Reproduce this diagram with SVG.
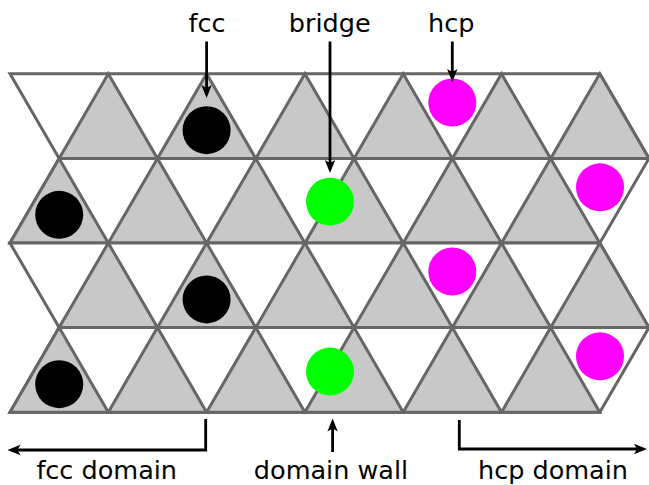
<svg xmlns="http://www.w3.org/2000/svg" width="649" height="485" viewBox="0 0 649 485">
<style>
.row{fill:#ffffff;stroke:#666666;stroke-width:3;stroke-linejoin:miter}
.tri{fill:#c8c8c8;stroke:#666666;stroke-width:3;stroke-linejoin:miter}
.lbl{font-family:"DejaVu Sans","Liberation Sans",sans-serif;font-size:25.5px;fill:#000;text-anchor:middle}
.arr{fill:none;stroke:#000;stroke-width:2.8}
</style>
<defs>
<marker id="ah" viewBox="0 -6 14 12" markerWidth="14" markerHeight="12" markerUnits="userSpaceOnUse" refX="4" refY="0" orient="auto">
<path d="M0,-5.2 L13,0 L0,5.2 L3,0 Z" fill="#000"/>
</marker>
<g id="rowA">
<polygon class="row" points="10,0 599.8,0 648.95,84.6 59.15,84.6"/>
<polygon class="tri" points="108.3,0 157.45,84.6 59.15,84.6"/>
<polygon class="tri" points="206.6,0 255.75,84.6 157.45,84.6"/>
<polygon class="tri" points="304.9,0 354.05,84.6 255.75,84.6"/>
<polygon class="tri" points="403.2,0 452.35,84.6 354.05,84.6"/>
<polygon class="tri" points="501.5,0 550.65,84.6 452.35,84.6"/>
<polygon class="tri" points="599.8,0 648.95,84.6 550.65,84.6"/>
</g>
<g id="rowB">
<polygon class="row" points="59.15,0 648.95,0 599.8,84.6 10,84.6"/>
<polygon class="tri" points="59.15,0 108.3,84.6 10,84.6"/>
<polygon class="tri" points="157.45,0 206.6,84.6 108.3,84.6"/>
<polygon class="tri" points="255.75,0 304.9,84.6 206.6,84.6"/>
<polygon class="tri" points="354.05,0 403.2,84.6 304.9,84.6"/>
<polygon class="tri" points="452.35,0 501.5,84.6 403.2,84.6"/>
<polygon class="tri" points="550.65,0 599.8,84.6 501.5,84.6"/>
</g>
</defs>
<g id="lattice">
<use href="#rowA" x="0" y="73.8"/>
<use href="#rowB" x="0" y="158.4"/>
<use href="#rowA" x="0" y="243"/>
<use href="#rowB" x="0" y="327.6"/>
</g>
<g id="atoms">
<g id="fcc-atoms" fill="#000">
<circle id="fcc1" cx="206.6" cy="130.2" r="24"/>
<circle id="fcc2" cx="59.2" cy="214.8" r="24"/>
<circle id="fcc3" cx="206.6" cy="299.4" r="24"/>
<circle id="fcc4" cx="59.2" cy="384.2" r="24"/>
</g>
<g id="bridge-atoms" fill="#00ff00">
<circle id="bridge1" cx="330" cy="201.7" r="24"/>
<circle id="bridge2" cx="330" cy="371.6" r="24"/>
</g>
<g id="hcp-atoms" fill="#ff00ff">
<circle id="hcp1" cx="452.3" cy="102.5" r="24"/>
<circle id="hcp2" cx="600" cy="187.3" r="24"/>
<circle id="hcp3" cx="452.3" cy="271.5" r="24"/>
<circle id="hcp4" cx="600" cy="356.3" r="24"/>
</g>
</g>
<g id="connectors">
<path class="arr" d="M206.6,41.5 V89" marker-end="url(#ah)"/>
<path class="arr" d="M330,41.5 V164" marker-end="url(#ah)"/>
<path class="arr" d="M452.3,41.5 V73" marker-end="url(#ah)"/>
<path class="arr" d="M332.6,452 V427.5" marker-end="url(#ah)"/>
<path class="arr" d="M205.7,419 V450 H16.5" marker-end="url(#ah)"/>
<path class="arr" d="M459.3,420 V449 H638" marker-end="url(#ah)"/>
</g>
<g id="labels">
<text id="t-fcc" class="lbl" x="207" y="32">fcc</text>
<text id="t-bridge" class="lbl" x="329.7" y="32">bridge</text>
<text id="t-hcp" class="lbl" x="451.3" y="32">hcp</text>
<text id="t-fccdomain" class="lbl" x="106.7" y="479">fcc domain</text>
<text id="t-wall" class="lbl" x="331" y="479">domain wall</text>
<text id="t-hcpdomain" class="lbl" x="553" y="479">hcp domain</text>
</g>
</svg>
